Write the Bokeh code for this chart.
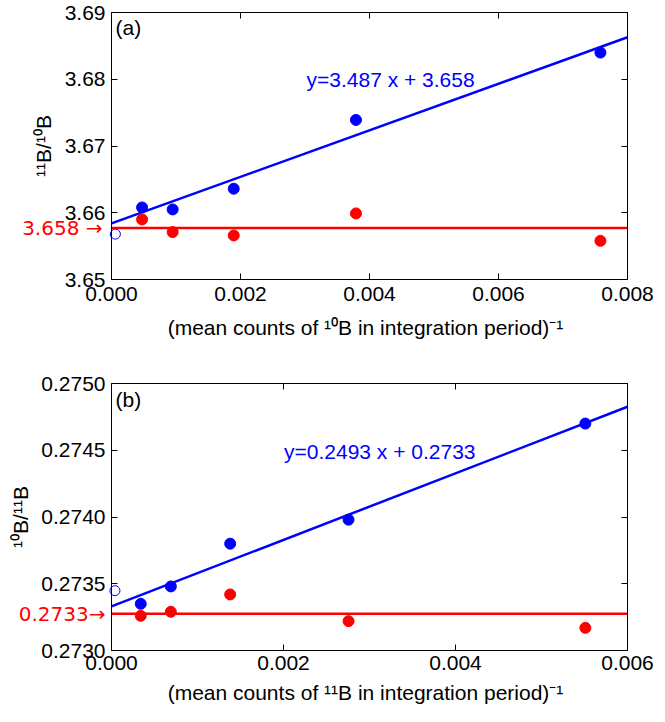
import math
from bokeh.plotting import figure
from bokeh.models import Range1d, LinearAxis, FixedTicker, PrintfTickFormatter, Label, CustomJSTickFormatter
from bokeh.layouts import column
from bokeh.embed import file_html
from bokeh.resources import INLINE

# ---------------- data: panel (a) ----------------
a_x = [0.000474, 0.000948, 0.001895, 0.00379, 0.00758]
a_blue = [3.6608, 3.6605, 3.6636, 3.6739, 3.6840]
a_red = [3.6590, 3.6571, 3.6566, 3.6599, 3.6558]
a_slope = 3.487
a_intercept = 3.6584
a_mean = 3.6577
a_open_x = [0.00006]
a_open_y = [3.6568]
a_xticks = [0.000, 0.002, 0.004, 0.006, 0.008]
a_yticks = [3.65, 3.66, 3.67, 3.68, 3.69]
a_eq = "y=3.487 x + 3.658"
a_val = "3.658 \u2192"
a_xlabel = "(mean counts of \u00b9\u2070B in integration period)\u207b\u00b9"
a_ylabel = "\u00b9\u00b9B/\u00b9\u2070B"

# ---------------- data: panel (b) ----------------
b_x = [0.00034, 0.00069, 0.00138, 0.002756, 0.00551]
b_blue = [0.27335, 0.27348, 0.27380, 0.27398, 0.27470]
b_red = [0.27326, 0.27329, 0.27342, 0.27322, 0.27317]
b_slope = 0.2493
b_intercept = 0.27333
b_mean = 0.273276
b_open_x = [0.00004]
b_open_y = [0.273448]
b_xticks = [0.000, 0.002, 0.004, 0.006]
b_yticks = [0.2730, 0.2735, 0.2740, 0.2745, 0.2750]
b_eq = "y=0.2493 x + 0.2733"
b_val = "0.2733\u2192"
b_xlabel = "(mean counts of \u00b9\u00b9B in integration period)\u207b\u00b9"
b_ylabel = "\u00b9\u2070B/\u00b9\u00b9B"

FONT = "Liberation Sans"
VFONT = "DejaVu Sans"
FS = "21px"
BLUE = "#0000ff"
RED = "#ff0000"
W = 657


def make_axis(ticks, bounds, loc, fmt=None, standoff=6):
    if fmt is None:
        formatter = CustomJSTickFormatter(code="return ''")
    else:
        formatter = PrintfTickFormatter(format=fmt)
    ax = LinearAxis(ticker=FixedTicker(ticks=ticks), formatter=formatter,
                    bounds=bounds, fixed_location=loc)
    ax.major_tick_in = 6
    ax.major_tick_out = 0
    ax.minor_tick_line_color = None
    ax.axis_line_color = "black"
    ax.axis_line_width = 1
    ax.major_tick_line_color = "black"
    ax.major_label_standoff = standoff
    ax.major_label_text_font = FONT
    ax.major_label_text_font_size = FS if fmt is not None else "1px"
    ax.major_label_text_color = "black"
    return ax


def make_panel(xs, blue, red, slope, intercept, mean, ox, oy, xticks, yticks,
               xfmt, yfmt, xlabel, ylabel, eq, val, tag, H, box, pos, xstand):
    # box: canvas pixel edges of the data box (left, right, top, bottom)
    L, R, T, B = box
    x0, x1 = xticks[0], xticks[-1]
    y0, y1 = yticks[0], yticks[-1]

    def sx(px):
        return x0 + (px - L) / (R - L) * (x1 - x0)

    def sy(py):
        return y1 - (py - T) / (B - T) * (y1 - y0)

    p = figure(width=W, height=H, output_backend="svg", toolbar_location=None,
               title=None, x_axis_location=None, y_axis_location=None,
               x_range=Range1d(sx(0), sx(W)), y_range=Range1d(sy(H), sy(0)),
               min_border=0, min_border_left=0, min_border_right=0,
               min_border_top=0, min_border_bottom=0,
               background_fill_color="white", border_fill_color="white")
    p.grid.visible = False
    p.outline_line_color = None

    p.add_layout(make_axis(xticks, (x0, x1), y0, xfmt, xstand), "below")
    p.add_layout(make_axis(yticks, (y0, y1), x0, yfmt, 6), "left")
    p.add_layout(make_axis(xticks, (x0, x1), y1), "above")
    p.add_layout(make_axis(yticks, (y0, y1), x1), "right")

    # fitted line and mean line
    p.line([x0, x1], [intercept + slope * x0, intercept + slope * x1],
           line_color=BLUE, line_width=2.5)
    p.line([x0, x1], [mean, mean], line_color=RED, line_width=2.5)
    # points
    p.scatter(xs, blue, size=11, fill_color=BLUE, line_color=BLUE)
    p.scatter(xs, red, size=11, fill_color=RED, line_color=RED)
    p.scatter(ox, oy, size=10, fill_color="white", line_color=BLUE, line_width=1)

    def lab(px, py, text, color="black", align="left", baseline="middle", angle=0.0):
        p.add_layout(Label(x=sx(px), y=sy(py), text=text, text_color=color,
                           text_font=FONT, text_font_size=FS, text_align=align,
                           text_baseline=baseline, angle=angle))

    lab(pos["eq"][0], pos["eq"][1], eq, color=BLUE)
    lab(pos["tag"][0], pos["tag"][1], tag, baseline="top")
    lab(pos["xt"][0], pos["xt"][1], xlabel, align="center")
    lab(pos["yt"], (T + B) / 2, ylabel, align="center", angle=math.pi / 2)
    # value of the mean, just left of the y axis
    p.add_layout(Label(x=sx(pos["val"]), y=mean, text=val, text_color=RED,
                       text_font=VFONT, text_font_size="20px", text_align="right",
                       text_baseline="middle"))
    return p


H1 = 345
H2 = 361
p1 = make_panel(a_x, a_blue, a_red, a_slope, a_intercept, a_mean, a_open_x, a_open_y,
                a_xticks, a_yticks, "%.3f", "%.2f", a_xlabel, a_ylabel,
                a_eq, a_val, "(a)", H1, (111, 627, 12, 279),
                dict(eq=(306, 79), tag=(115, 15), xt=(365, 327), yt=43, val=102), 7)

p2 = make_panel(b_x, b_blue, b_red, b_slope, b_intercept, b_mean, b_open_x, b_open_y,
                b_xticks, b_yticks, "%.3f", "%.4f", b_xlabel, b_ylabel,
                b_eq, b_val, "(b)", H2, (111, 627, 38, 305),
                dict(eq=(283.5, 106), tag=(115, 42), xt=(365, 347), yt=20, val=105), 5)

layout = column(p1, p2, spacing=0)
open("out.html", "w").write(file_html(layout, INLINE))
